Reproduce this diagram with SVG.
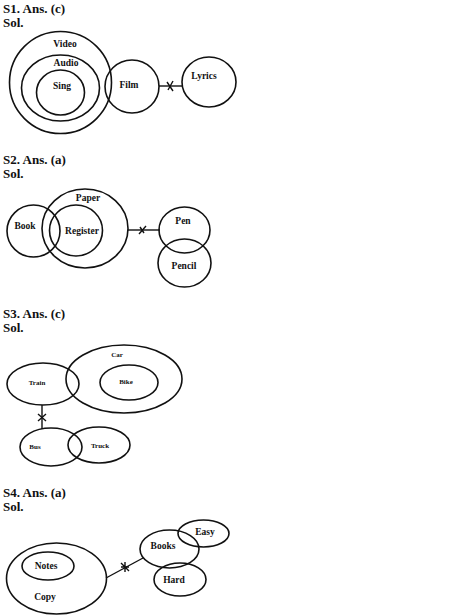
<svg xmlns="http://www.w3.org/2000/svg" width="474" height="615" viewBox="0 0 474 615">
<style>
.h{font-family:"Liberation Serif","DejaVu Serif",serif;font-weight:bold;font-size:13px;fill:#111}
.l{font-family:"Liberation Serif","DejaVu Serif",serif;font-weight:bold;font-size:9.5px;fill:#111;text-anchor:middle}
.s{font-size:7px}
.c{fill:none;stroke:#111;stroke-width:1.6}
.k{fill:none;stroke:#111;stroke-width:1.4}
</style>
<rect width="474" height="615" fill="#fff"/>
<g id="headings">
<text class="h" x="3" y="13">S1. Ans. (c)</text>
<text class="h" x="3" y="27">Sol.</text>
<text class="h" x="3" y="164">S2. Ans. (a)</text>
<text class="h" x="3" y="178">Sol.</text>
<text class="h" x="3" y="318">S3. Ans. (c)</text>
<text class="h" x="3" y="332">Sol.</text>
<text class="h" x="3" y="497">S4. Ans. (a)</text>
<text class="h" x="3" y="511">Sol.</text>
</g>
<g id="connectors">
<line class="k" x1="159" y1="86" x2="182" y2="86"/>
<path class="k" d="M167 82 L173 91 M173 81 L168 90"/>
<line class="k" x1="128" y1="230" x2="160" y2="230"/>
<path class="k" d="M139 234 L146 226 M140 227 L144 233"/>
<line class="k" x1="42" y1="405" x2="42" y2="429"/>
<path class="k" d="M38 414 L46 421 M46 414 L38 421"/>
<line class="k" x1="106" y1="578" x2="143" y2="558"/>
<path class="k" d="M121 563 L129 571 M125 562 L125 572 M121 567 L129 567"/>
</g>
<g id="video"><circle class="c" cx="60.5" cy="82.5" r="51"/><text class="l" x="65" y="47">Video</text></g>
<g id="audio"><ellipse class="c" cx="60.5" cy="88" rx="39" ry="33"/><text class="l" x="66" y="66">Audio</text></g>
<g id="sing"><ellipse class="c" cx="60.5" cy="92.5" rx="24" ry="22.5"/><text class="l" x="62" y="89">Sing</text></g>
<g id="film"><ellipse class="c" cx="132" cy="86.5" rx="27" ry="26.5"/><text class="l" x="129" y="88">Film</text></g>
<g id="lyrics"><ellipse class="c" cx="209" cy="82" rx="27" ry="25"/><text class="l" x="204" y="79">Lyrics</text></g>

<g id="book"><ellipse class="c" cx="33.5" cy="231" rx="26.5" ry="26"/><text class="l" x="25" y="229">Book</text></g>
<g id="paper"><ellipse class="c" cx="85" cy="228.5" rx="43" ry="39.5"/><text class="l" x="88" y="201">Paper</text></g>
<g id="register"><ellipse class="c" cx="76" cy="230.5" rx="26.5" ry="25.5"/><text class="l" x="82" y="234">Register</text></g>
<g id="pen"><ellipse class="c" cx="184.5" cy="230" rx="25.5" ry="23"/><text class="l" x="183" y="224">Pen</text></g>
<g id="pencil"><ellipse class="c" cx="184.5" cy="263" rx="26.5" ry="24"/><text class="l" x="184" y="269">Pencil</text></g>

<g id="car"><ellipse class="c" cx="124" cy="379" rx="58" ry="34"/><text class="l s" x="117" y="357">Car</text></g>
<g id="bike"><ellipse class="c" cx="129" cy="382.5" rx="29" ry="17.5"/><text class="l s" x="126" y="384">Bike</text></g>
<g id="train"><ellipse class="c" cx="43" cy="384" rx="36" ry="21"/><text class="l s" x="37" y="385">Train</text></g>
<g id="bus"><ellipse class="c" cx="51" cy="447" rx="31" ry="19"/><text class="l s" x="35" y="449">Bus</text></g>
<g id="truck"><ellipse class="c" cx="99" cy="445" rx="31" ry="18"/><text class="l s" x="100" y="448">Truck</text></g>

<g id="copy"><ellipse class="c" cx="56.5" cy="578.5" rx="50" ry="35.5"/><text class="l" x="45" y="600">Copy</text></g>
<g id="notes"><ellipse class="c" cx="48" cy="566" rx="26" ry="14"/><text class="l" x="46" y="569">Notes</text></g>
<g id="books"><ellipse class="c" cx="169.5" cy="549" rx="29.5" ry="19"/><text class="l" x="163" y="549">Books</text></g>
<g id="easy"><ellipse class="c" cx="203.5" cy="533.5" rx="25.5" ry="13.5"/><text class="l" x="205" y="535">Easy</text></g>
<g id="hard"><ellipse class="c" cx="180" cy="579.5" rx="26" ry="16.5"/><text class="l" x="174" y="583">Hard</text></g>
</svg>
